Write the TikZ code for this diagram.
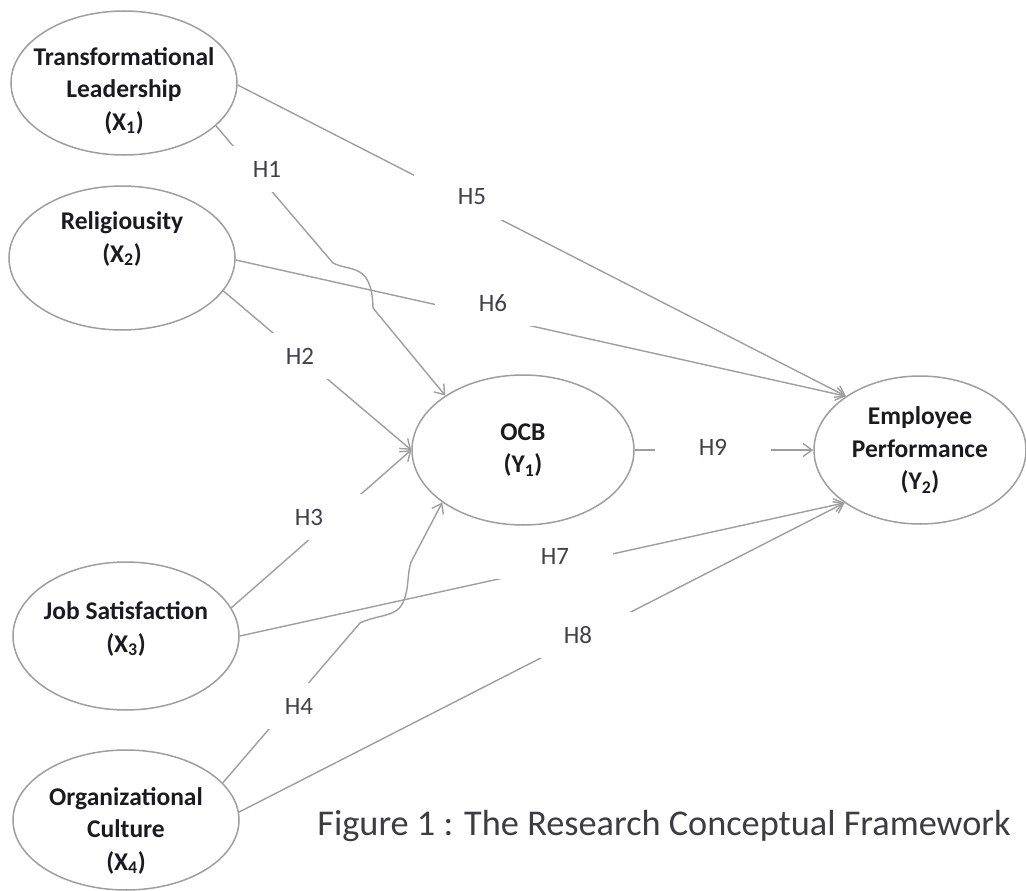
\documentclass[tikz,border=0pt]{standalone}
\usepackage{fontspec}
\setmainfont{Carlito}
\usetikzlibrary{shapes.geometric,arrows.meta,positioning}
\definecolor{linegray}{RGB}{158,158,158}
\definecolor{hypgray}{RGB}{64,64,76}
\definecolor{namegray}{RGB}{26,26,34}

\begin{document}
\begin{tikzpicture}[x=1pt, y=-1pt, >={Straight Barb[length=9pt,width=13pt]}]
\tikzstyle{construct}=[ellipse, draw=linegray, line width=1.5pt, inner xsep=-30pt, inner ysep=-8pt,
  align=center, text=namegray, font=\fontsize{25.5}{32.5}\selectfont\bfseries]
\tikzstyle{hyp}=[fill=white, minimum width=116pt, minimum height=46pt, inner sep=0pt,
  text=hypgray, font=\fontsize{25}{29}\selectfont]
\tikzstyle{link}=[->, draw=linegray, line width=1.4pt]
\useasboundingbox (0,0) rectangle (1026,891);

% constructs
\node[construct, minimum width=226pt, minimum height=144pt, text height=98pt] (x1) at (124,83)  {Transformational\\Leadership\\(X\textsubscript{1})};
\node[construct, minimum width=226pt, minimum height=144pt, text depth=42pt] (x2) at (122,258) {Religiousity\\(X\textsubscript{2})};
\node[construct, minimum width=226pt, minimum height=148pt, text depth=18pt] (x3) at (126,636) {Job Satisfaction\\(X\textsubscript{3})};
\node[construct, minimum width=226pt, minimum height=140pt, text height=104pt] (x4) at (126,820) {Organizational\\Culture\\(X\textsubscript{4})};
\node[construct, minimum width=222pt, minimum height=150pt] (ocb) at (523,450) {OCB\\(Y\textsubscript{1})};
\node[construct, minimum width=212pt, minimum height=148pt] (y2) at (920,450)  {Employee\\Performance\\(Y\textsubscript{2})};

% hop points
\coordinate (h1a) at (333,263);
\coordinate (h1b) at (373,308);
\coordinate (h4a) at (360,623);
\coordinate (h4m) at (404,600);
\coordinate (h4b) at (411,562);

\path
(x1.-1)  edge[link]  (y2.144)
(x2.-1)  edge[link]  (y2.144)
(x2.-18) edge[link]  (ocb.180)
(x3.15)  edge[link]  (ocb.180)
(x3.0)   edge[link]  (y2.215)
(x4.4)   edge[link]  (y2.215)
(ocb.0)  edge[link]  (y2.180);

\draw[link] (x1.-25) -- (h1a) .. controls (350,272) and (372,262) .. (h1b) -- (ocb.145);
\draw[link] (x4.21) -- (h4a) .. controls (378,614) and (398,618) .. (h4m)
  .. controls (409,588) and (407,575) .. (h4b) -- (ocb.213);

% hypotheses
\node[hyp] (H1) at (267,169) {H1};
\node[hyp] (H2) at (300,356) {H2};
\node[hyp] (H3) at (309,517) {H3};
\node[hyp] (H4) at (299,706) {H4};
\node[hyp] (H5) at (472,197) {H5};
\node[hyp] (H6) at (493,303) {H6};
\node[hyp] (H7) at (555,556) {H7};
\node[hyp] (H8) at (578,635) {H8};
\node[hyp] (H9) at (713,447) {H9};

\node[text=namegray!85, font=\fontsize{36.3}{40}\selectfont] (cap) at (664,826) {Figure 1 : The Research Conceptual Framework};
\end{tikzpicture}
\end{document}
